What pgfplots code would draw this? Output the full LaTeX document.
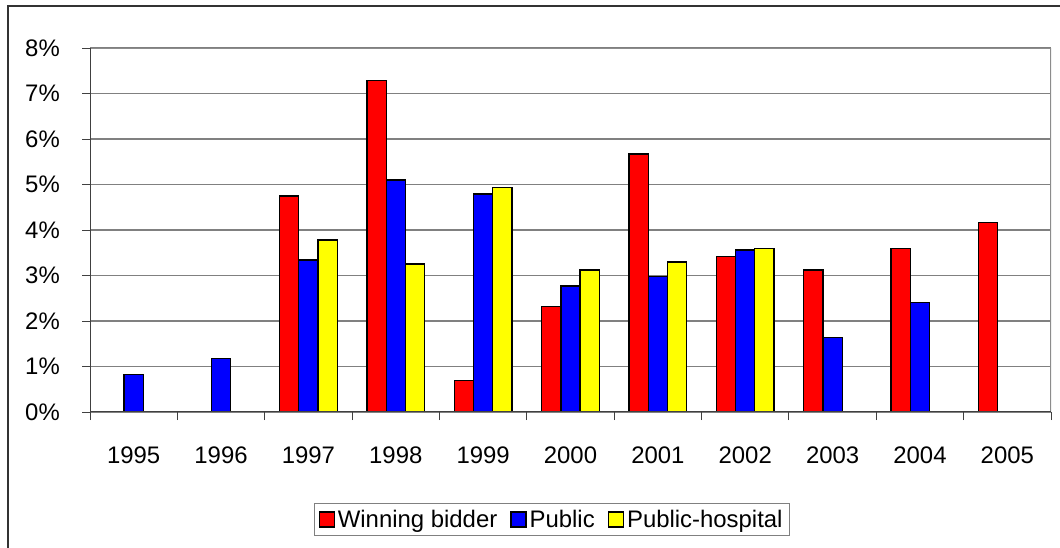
\documentclass[border=0pt]{standalone}
\usepackage{pgfplots}
\pgfplotsset{compat=1.18}
\usepackage{fontspec}
\setmainfont{Liberation Sans}
\definecolor{xlred}{RGB}{255,0,0}
\definecolor{xlblue}{RGB}{0,0,255}
\definecolor{xlyellow}{RGB}{255,255,0}
\begin{document}
\begin{tikzpicture}
\path[use as bounding box] (0,0) rectangle (1060bp,548bp);
\draw[line width=1.3bp, black!80] (1070bp,542bp) -- (8bp,542bp) -- (8bp,-10bp);
\begin{axis}[
  at={(90bp,136bp)}, anchor=south west,
  scale only axis, width=961bp, height=364bp,
  xmin=-0.5, xmax=10.5, ymin=0, ymax=8,
  axis line style={draw=none},
  ybar,
  xtick pos=bottom, ytick pos=left,
  xtick={-0.5,0.5,1.5,2.5,3.5,4.5,5.5,6.5,7.5,8.5,9.5,10.5},
  xticklabels={1995,1996,1997,1998,1999,2000,2001,2002,2003,2004,2005,{}},
  xticklabel style={anchor=north, inner sep=0pt, xshift=43.68bp, yshift=-27bp},
  ytick={0,1,...,8},
  yticklabel={\pgfmathprintnumber{\tick}\%},
  yticklabel style={anchor=east, inner sep=0pt, xshift=-22bp},
  /pgf/number format/assume math mode=true,
  tick label style={font=\fontsize{24}{28}\selectfont},
  tick align=outside, major tick length=8bp,
  tick style={black!75, line width=1bp},
  ymajorgrids, grid style={gray, line width=1.1bp},
  legend image code/.code={\draw[#1, line width=1.3bp] (0bp,-7.5bp) rectangle (15bp,7.5bp);},
  legend columns=3,
  legend style={at={(0.4808,-0.2953)}, anchor=center, draw=gray, line width=1.1bp,
    font=\fontsize{24}{28}\selectfont, inner xsep=4bp, inner ysep=5bp,
    nodes={inner xsep=3bp, inner ysep=2bp},
    /tikz/every even column/.append style={column sep=10bp}},
  legend cell align=left,
]
\addplot[fill=xlred, draw=black, line width=1.3bp, bar width=0.22, bar shift=-0.22]
  coordinates {(2,4.75) (3,7.29) (4,0.70) (5,2.32) (6,5.67) (7,3.42) (8,3.12) (9,3.60) (10,4.17)};
\addplot[fill=xlblue, draw=black, line width=1.3bp, bar width=0.22, bar shift=0]
  coordinates {(0,0.83) (1,1.18) (2,3.34) (3,5.10) (4,4.79) (5,2.77) (6,2.98) (7,3.56) (8,1.63) (9,2.41)};
\addplot[fill=xlyellow, draw=black, line width=1.3bp, bar width=0.22, bar shift=0.22]
  coordinates {(2,3.78) (3,3.25) (4,4.93) (5,3.12) (6,3.30) (7,3.60)};
\legend{Winning bidder, Public, Public-hospital}
\draw[gray!90, line width=1.5bp] (rel axis cs:0,1) -- (rel axis cs:1,1) -- (rel axis cs:1,0);
\draw[black!75, line width=1.2bp] (rel axis cs:0,1) -- (rel axis cs:0,0) -- (rel axis cs:1,0);
\end{axis}
\end{tikzpicture}
\end{document}
